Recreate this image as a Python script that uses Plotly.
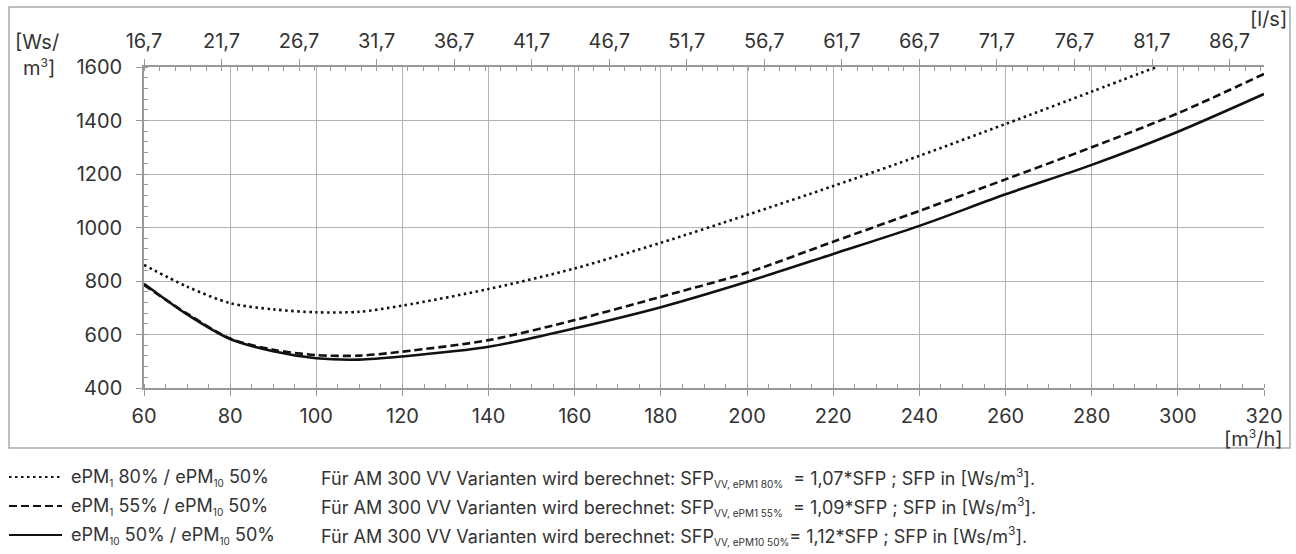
import numpy as np
import plotly.graph_objects as go

# Air flow [m³/h] sample points and SFP [Ws/m³] per filter combination
flow_80 = [60, 70, 80, 90, 100, 110, 120, 140, 160, 180, 200, 220, 240, 260, 280, 295]
sfp_80 = [860, 779, 717, 694, 683, 685, 708, 770, 847, 943, 1047, 1155, 1268, 1387, 1508, 1600]

flow_55 = [60, 70, 80, 90, 100, 110, 120, 140, 160, 180, 200, 220, 240, 260, 280, 300, 320]
sfp_55 = [785, 678, 585, 543, 523, 521, 536, 579, 654, 741, 831, 947, 1062, 1180, 1300, 1427, 1574]

flow_50 = [60, 70, 80, 90, 100, 110, 120, 140, 160, 180, 200, 220, 240, 260, 280, 300, 320]
sfp_50 = [790, 675, 583, 537, 511, 506, 518, 554, 623, 702, 797, 901, 1006, 1124, 1234, 1358, 1499]

# Axis ticks
x_ticks = [60, 80, 100, 120, 140, 160, 180, 200, 220, 240, 260, 280, 300, 320]
y_ticks = [400, 600, 800, 1000, 1200, 1400, 1600]
lps_labels = ["16,7", "21,7", "26,7", "31,7", "36,7", "41,7", "46,7", "51,7",
              "56,7", "61,7", "66,7", "71,7", "76,7", "81,7", "86,7"]


def small(t):
    return "<sub><span style='font-size:10px'>" + t + "</span></sub>"


def sup3():
    return "<sup><span style='font-size:12px'>3</span></sup>"


series_names = ["ePM" + small("1") + " 80% / ePM" + small("10") + " 50%",
                "ePM" + small("1") + " 55% / ePM" + small("10") + " 50%",
                "ePM" + small("10") + " 50% / ePM" + small("10") + " 50%"]
series_notes = [
    "Für AM 300 VV Varianten wird berechnet: SFP" + small("VV, ePM1 80%")
    + "  = 1,07*SFP ; SFP in [Ws/m" + sup3() + "].",
    "Für AM 300 VV Varianten wird berechnet: SFP" + small("VV, ePM1 55%")
    + "  = 1,09*SFP ; SFP in [Ws/m" + sup3() + "].",
    "Für AM 300 VV Varianten wird berechnet: SFP" + small("VV, ePM10 50%")
    + "= 1,12*SFP ; SFP in [Ws/m" + sup3() + "].",
]

FONT = "Inter"
TXT = "#333333"
GRID = "#b4b4b4"
AXIS = "#999999"
INK = "#111111"

W, H = 1296, 554
ML, MR, MT, MB = 144, 32, 67, 166
PW, PH = W - ML - MR, H - MT - MB


def px(x):
    return (x - ML) / PW


def py(y):
    return (H - MB - y) / PH


styles = [dict(dash="2.5px,3.5px", width=2.6),
          dict(dash="8px,4px", width=2.6),
          dict(dash="solid", width=2.6)]

fig = go.Figure()
for fx, fy, st in zip([flow_80, flow_55, flow_50], [sfp_80, sfp_55, sfp_50], styles):
    fig.add_trace(go.Scatter(
        x=fx, y=fy, mode="lines", showlegend=False, hoverinfo="skip",
        line=dict(color=INK, width=st["width"], dash=st["dash"], shape="spline", smoothing=0.8),
    ))

# invisible trace carrying the l/s axis on top
lps_min, lps_max = x_ticks[0] / 3.6, x_ticks[-1] / 3.6
fig.add_trace(go.Scatter(x=[lps_min, lps_max], y=[y_ticks[0], y_ticks[0]], xaxis="x2",
                         mode="lines", line=dict(width=0), showlegend=False, hoverinfo="skip"))

TICK_SIZE = 20
tickfont = dict(family=FONT, size=TICK_SIZE, color=TXT)

fig.update_layout(
    width=W, height=H,
    margin=dict(l=ML, r=MR, t=MT, b=MB),
    paper_bgcolor="white", plot_bgcolor="white",
    font=dict(family=FONT, color=TXT),
    xaxis=dict(
        range=[x_ticks[0], x_ticks[-1]], tickvals=x_ticks, ticktext=[str(v) for v in x_ticks],
        showgrid=True, gridcolor=GRID, gridwidth=1,
        showline=True, linecolor=AXIS, linewidth=1.5,
        ticks="outside", ticklen=6, tickcolor=AXIS, tickwidth=1,
        ticklabelstandoff=3, tickfont=tickfont, zeroline=False,
        minor=dict(dtick=5, tick0=60, ticks="inside", ticklen=4, tickcolor=AXIS, showgrid=False),
    ),
    xaxis2=dict(
        overlaying="x", side="top", range=[lps_min, lps_max],
        tickvals=[lps_min + 5 * k for k in range(len(lps_labels))], ticktext=lps_labels,
        showgrid=False, showline=True, linecolor=AXIS, linewidth=1.5,
        ticks="outside", ticklen=6, tickcolor=AXIS, tickwidth=1,
        ticklabelstandoff=3, tickfont=tickfont, zeroline=False,
        minor=dict(dtick=1, tick0=lps_min, ticks="inside", ticklen=4, tickcolor=AXIS, showgrid=False),
    ),
    yaxis=dict(
        range=[y_ticks[0], y_ticks[-1]], tickvals=y_ticks,
        showgrid=True, gridcolor=GRID, gridwidth=1,
        showline=True, linecolor=AXIS, linewidth=1.5,
        ticks="outside", ticklen=6, tickcolor=AXIS, tickwidth=1,
        ticklabelstandoff=10, tickfont=tickfont, zeroline=False,
        minor=dict(dtick=40, tick0=400, ticks="inside", ticklen=4, tickcolor=AXIS, showgrid=False),
    ),
)

# outer frame around the chart area
fig.add_shape(type="rect", xref="paper", yref="paper",
              x0=px(9), x1=px(1290), y0=py(448), y1=py(7),
              line=dict(color="#aaaaaa", width=1.5), fillcolor="rgba(0,0,0,0)", layer="below")

# axis unit labels
ann = dict(xref="paper", yref="paper", showarrow=False, font=dict(family=FONT, size=TICK_SIZE, color=TXT))
fig.add_annotation(text="[Ws/", x=px(13), y=py(42), xanchor="left", yanchor="middle", **ann)
fig.add_annotation(text="m" + sup3() + "]", x=px(57), y=py(67), xanchor="right", yanchor="middle", **ann)
fig.add_annotation(text="[l/s]", x=px(1289), y=py(19), xanchor="right", yanchor="middle", **ann)
fig.add_annotation(text="[m" + sup3() + "/h]", x=px(1285), y=py(439), xanchor="right", yanchor="middle", **ann)

# legend rows below the frame
row_y = [477, 506, 535]
for yy, st, name, note in zip(row_y, styles, series_names, series_notes):
    fig.add_shape(type="line", xref="paper", yref="paper",
                  x0=px(9), x1=px(62), y0=py(yy), y1=py(yy),
                  line=dict(color=INK, width=2, dash=st["dash"]))
    fig.add_annotation(text=name, x=px(69), y=py(yy), xanchor="left", yanchor="middle",
                       xref="paper", yref="paper", showarrow=False,
                       font=dict(family=FONT, size=18, color=TXT))
    fig.add_annotation(text=note, x=px(319), y=py(yy), xanchor="left", yanchor="middle",
                       xref="paper", yref="paper", showarrow=False,
                       font=dict(family=FONT, size=18, color=TXT))

fig.write_html("out.html")
